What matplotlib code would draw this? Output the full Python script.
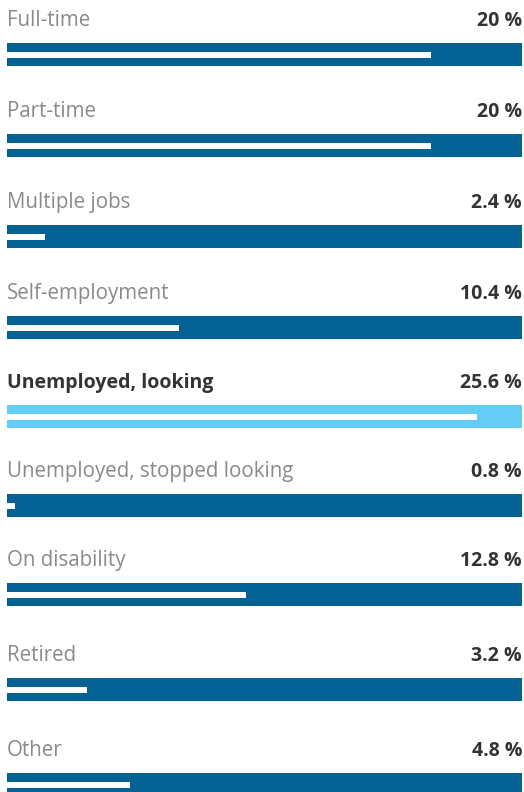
#!/usr/bin/env python3

import matplotlib.pyplot as plt

# categories and their shares (right-hand numbers)
categories = ['Full-time', 'Part-time', 'Multiple jobs', 'Self-employment',
              'Unemployed, looking', 'Unemployed, stopped looking',
              'On disability', 'Retired', 'Other']
shares = [20, 20, 2.4, 10.4, 25.6, 0.8, 12.8, 3.2, 4.8]
marker = [82.3, 82.3, 7.4, 33.4, 91.3, 1.6, 46.4, 15.5, 23.9]
highlight = 'Unemployed, looking'

# layout (pixels from top)
row_tops = [43, 134, 225, 316, 405, 494, 583, 678, 773]
bar_h = 23
line_off = 9
line_h = 6
label_gap = 17

dark_blue = '#036194'
light_blue = '#64cdf6'

plt.rcParams['font.family'] = ['Open Sans', 'DejaVu Sans']

fig = plt.figure(figsize=(5.24, 7.92), dpi=100)
ax = fig.add_axes([7 / 524, 0, 515 / 524, 1])
ax.set_xlim(0, 100)
ax.set_ylim(792, 0)
ax.axis('off')

for cat, val, m, top in zip(categories, shares, marker, row_tops):
    hl = cat == highlight
    color = light_blue if hl else dark_blue
    ax.barh(top + bar_h / 2, 100, height=bar_h, left=0, color=color)
    ax.barh(top + line_off + line_h / 2, m, height=line_h, left=0, color='white')
    ax.text(0, top - label_gap, cat, ha='left', va='baseline',
            fontsize=14 if hl else 14.8,
            color='#333333' if hl else '#8a8a8a',
            fontweight='bold' if hl else 'normal')
    ax.text(100, top - label_gap, '{:g} %'.format(val), ha='right', va='baseline',
            fontsize=14, color='#333333', fontweight='bold')

fig.savefig('out.png', dpi=100)
